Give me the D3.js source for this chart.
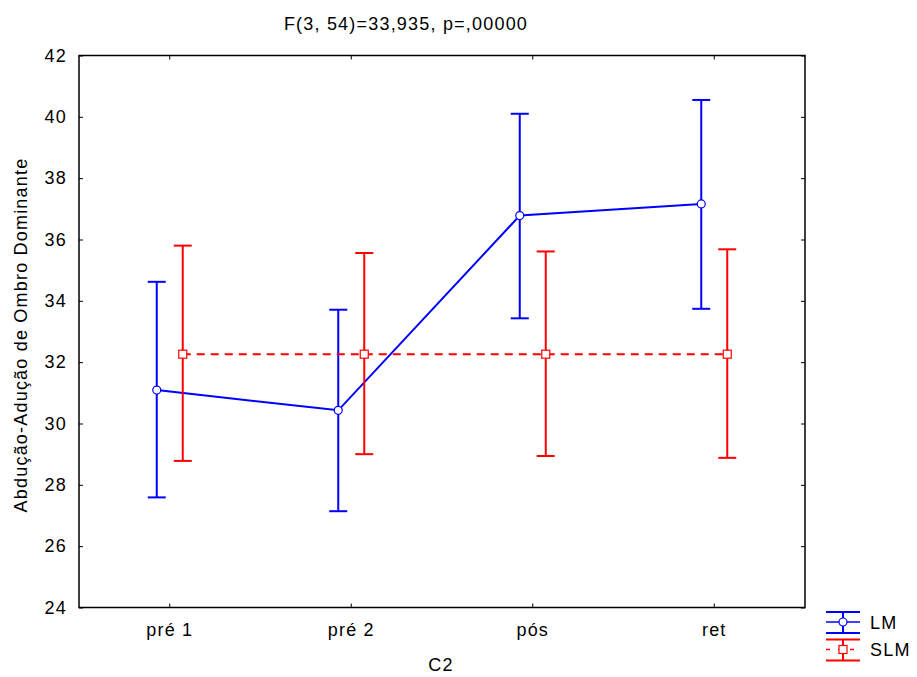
<!DOCTYPE html>
<html>
<head>
<meta charset="utf-8">
<script src="https://cdn.jsdelivr.net/npm/d3@7"></script>
<style>
body { margin: 0; background: #fff; }
text { font-family: "Liberation Sans", Arial, sans-serif; letter-spacing: 1.2px; }
</style>
</head>
<body>
<div id="chart"></div>
<script>
// dados
var categorias = ["pré 1", "pré 2", "pós", "ret"];
var lmMedia = [31.09, 30.43, 36.78, 37.16];
var lmSup = [34.62, 33.71, 40.10, 40.55];
var lmInf = [27.59, 27.14, 33.43, 33.74];
var slmMedia = [32.26, 32.26, 32.26, 32.26];
var slmSup = [35.80, 35.56, 35.61, 35.68];
var slmInf = [28.78, 29.00, 28.94, 28.88];
var yTicks = [24, 26, 28, 30, 32, 34, 36, 38, 40, 42];

var w = 917, h = 677;
var pLeft = 79, pRight = 805, pTop = 55.5, pBottom = 607.5;

var svg = d3.select("#chart").append("svg")
  .attr("width", w).attr("height", h);

var x = d3.scaleBand().domain(categorias).range([pLeft, pRight]);
var y = d3.scaleLinear().domain([24, 42]).range([pBottom, pTop]);
var off = 13;

// moldura
svg.append("rect")
  .attr("x", pLeft).attr("y", pTop)
  .attr("width", pRight - pLeft).attr("height", pBottom - pTop)
  .attr("fill", "none").attr("stroke", "#000").attr("stroke-width", 1.5);

// eixos
var axL = svg.append("g").attr("transform", "translate(" + pLeft + ",0)")
  .call(d3.axisLeft(y).tickValues(yTicks).tickSizeInner(-4).tickSizeOuter(0).tickPadding(12));
var axR = svg.append("g").attr("transform", "translate(" + pRight + ",0)")
  .call(d3.axisRight(y).tickValues(yTicks).tickSizeInner(-4).tickSizeOuter(0).tickFormat(""));
var axB = svg.append("g").attr("transform", "translate(0," + pBottom + ")")
  .call(d3.axisBottom(x).tickSizeInner(-4).tickSizeOuter(0).tickPadding(16));
var axT = svg.append("g").attr("transform", "translate(0," + pTop + ")")
  .call(d3.axisTop(x).tickSizeInner(-4).tickSizeOuter(0).tickFormat(""));
[axL, axR, axB, axT].forEach(function(a){
  a.select(".domain").remove();
  a.selectAll("line").attr("stroke", "#000");
  a.selectAll("text").attr("font-size", "18px").attr("fill", "#000")
   .style("font-family", "Liberation Sans, Arial, sans-serif");
});

// títulos
svg.append("text").text("F(3, 54)=33,935, p=,00000")
  .attr("x", 406).attr("y", 30).attr("text-anchor", "middle").attr("font-size", "18px");
svg.append("text").text("C2")
  .attr("x", 441).attr("y", 671).attr("text-anchor", "middle").attr("font-size", "18px");
svg.append("text").text("Abdução-Adução de Ombro Dominante")
  .attr("transform", "translate(27,335) rotate(-90)")
  .attr("text-anchor", "middle").attr("font-size", "18px");

function serie(media, sup, inf, cor, dx, dash, marcador) {
  var g = svg.append("g");
  var line = d3.line()
    .x(function(d, i){ return x(categorias[i]) + x.bandwidth()/2 + dx; })
    .y(function(d){ return y(d); });
  g.append("path").datum(media).attr("d", line)
    .attr("fill", "none").attr("stroke", cor).attr("stroke-width", 2)
    .attr("stroke-dasharray", dash);
  categorias.forEach(function(c, i){
    var cx = x(c) + x.bandwidth()/2 + dx;
    g.append("line").attr("x1", cx).attr("x2", cx)
      .attr("y1", y(sup[i])).attr("y2", y(inf[i]))
      .attr("stroke", cor).attr("stroke-width", 2);
    [sup[i], inf[i]].forEach(function(v){
      g.append("line").attr("x1", cx - 9).attr("x2", cx + 9)
        .attr("y1", y(v)).attr("y2", y(v))
        .attr("stroke", cor).attr("stroke-width", 2);
    });
    if (marcador == "circle") {
      g.append("circle").attr("cx", cx).attr("cy", y(media[i])).attr("r", 4)
        .attr("fill", "#fff").attr("stroke", cor).attr("stroke-width", 1.2);
    } else {
      g.append("rect").attr("x", cx - 4).attr("y", y(media[i]) - 4)
        .attr("width", 8).attr("height", 8)
        .attr("fill", "#fff").attr("stroke", cor).attr("stroke-width", 1.2);
    }
  });
}
serie(lmMedia, lmSup, lmInf, "#0000ff", -off, null, "circle");
serie(slmMedia, slmSup, slmInf, "#ff0000", off, "8,6", "rect");

// legenda
function legenda(yc, cor, nome, marcador, dash) {
  var x1 = 826, x2 = 860, xm = 843;
  svg.append("line").attr("x1", x1).attr("x2", x2).attr("y1", yc - 10).attr("y2", yc - 10)
    .attr("stroke", cor).attr("stroke-width", 2);
  svg.append("line").attr("x1", x1).attr("x2", x2).attr("y1", yc + 11).attr("y2", yc + 11)
    .attr("stroke", cor).attr("stroke-width", 2);
  svg.append("line").attr("x1", xm).attr("x2", xm).attr("y1", yc - 10).attr("y2", yc + 11)
    .attr("stroke", cor).attr("stroke-width", 2);
  svg.append("line").attr("x1", x1).attr("x2", x2).attr("y1", yc).attr("y2", yc)
    .attr("stroke", cor).attr("stroke-width", 1.5).attr("stroke-dasharray", dash);
  if (marcador == "circle") {
    svg.append("circle").attr("cx", xm).attr("cy", yc).attr("r", 4)
      .attr("fill", "#fff").attr("stroke", cor).attr("stroke-width", 1.2);
  } else {
    svg.append("rect").attr("x", xm - 4).attr("y", yc - 4).attr("width", 8).attr("height", 8)
      .attr("fill", "#fff").attr("stroke", cor).attr("stroke-width", 1.2);
  }
  svg.append("text").text(nome).attr("x", 870).attr("y", yc + 6.5).attr("font-size", "18px");
}
legenda(622, "#0000ff", "LM", "circle", null);
legenda(649.5, "#ff0000", "SLM", "rect", "4,8");
</script>
</body>
</html>
